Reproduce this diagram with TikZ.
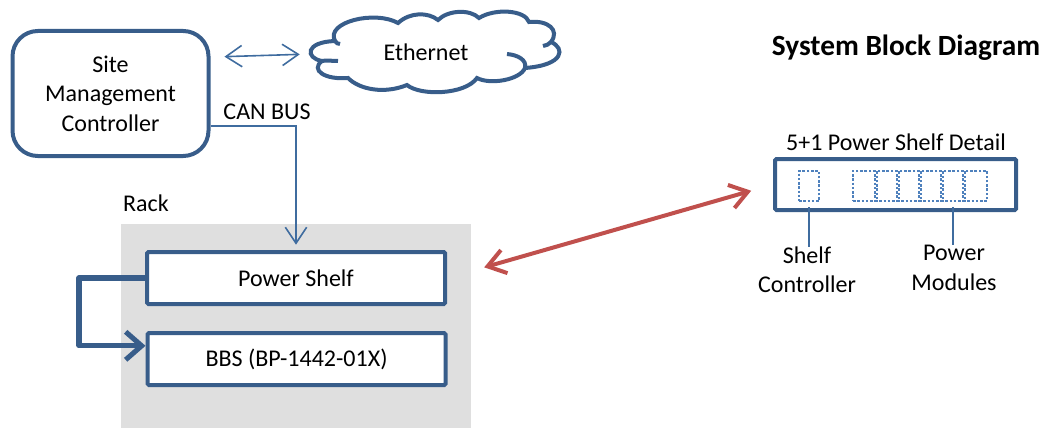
\documentclass[tikz,border=0pt]{standalone}
\usepackage{fontspec}
\setmainfont{Carlito}
\usetikzlibrary{arrows.meta}
\definecolor{boxblue}{HTML}{385D8A}
\definecolor{linkblue}{HTML}{3F6C9F}
\definecolor{dotblue}{HTML}{4F81BD}
\definecolor{linkred}{HTML}{C0504D}
\definecolor{rackgrey}{HTML}{DFDFDF}
\tikzset{
  label text/.style={inner sep=0pt,align=center,font=\fontsize{18}{22}\selectfont},
  solid box/.style={rectangle,draw=boxblue,line width=3pt,fill=white,minimum height=52*.75pt,minimum width=298*.75pt,inner sep=0pt,label text,rounded corners=1pt},
  dot box/.style={rectangle,draw=dotblue,line width=1.9pt,dash pattern=on 1.9pt off 1.3pt,minimum width=24*.75pt,minimum height=30*.75pt,inner sep=0pt},
  thin link/.style={draw=linkblue,line width=1.2pt,-{Straight Barb[length=12pt,width=16pt,line width=1.2pt]}},
  thick link/.style={draw=boxblue,line width=3.8pt,-{Straight Barb[length=12pt,width=21pt,line width=3.8pt]}},
  red link/.style={draw=linkred,line width=3pt,{Straight Barb[length=13pt,width=18pt,line width=3pt]}-{Straight Barb[length=13pt,width=18pt,line width=3pt]}},
}
\begin{document}
\begin{tikzpicture}[x=.75pt,y=-.75pt]
      \useasboundingbox (0,0) rectangle (1044,428);
      \node[rectangle,fill=rackgrey,minimum width=350*.75pt,minimum height=204*.75pt,inner sep=0pt] (rack) at (296,326) {};
      \node[label text] (racklabel) at (146,203) {Rack};
      \node[solid box,minimum width=196*.75pt,minimum height=125*.75pt,rounded corners=19pt,line width=3pt] (site) at (110.5,93.5) {Site\\Management\\Controller};
      \draw[boxblue,line width=3pt,fill=white]
        (335,41) .. controls (325,22) and (375,10) .. (398,23)
        .. controls (410,12) and (428,12) .. (438,20)
        .. controls (448,10) and (470,9) .. (479,18)
        .. controls (495,8) and (525,10) .. (529,22)
        .. controls (548,20) and (560,30) .. (551,42)
        .. controls (565,48) and (565,65) .. (525,68)
        .. controls (520,80) and (490,85) .. (477,78)
        .. controls (465,95) and (420,96) .. (407,85)
        .. controls (385,94) and (360,90) .. (348,78)
        .. controls (325,80) and (310,70) .. (322,61)
        .. controls (305,58) and (305,42) .. (335,41) -- cycle;
      \draw[boxblue,line width=3pt] (322,61) .. controls (326,60) and (332,61) .. (338,61);
      \draw[boxblue,line width=3pt] (335,41) .. controls (336,43) and (338,44) .. (340,44);
      \draw[boxblue,line width=3pt] (551,42) .. controls (549,44) and (546,46) .. (543,46);
      \draw[boxblue,line width=3pt] (525,68) .. controls (527,60) and (518,55) .. (507,54);
      \node[label text,minimum width=232*.75pt] (ethernet) at (426,52) {Ethernet};
      \draw[thin link,{Straight Barb[length=12pt,width=16pt,line width=1.2pt]}-{Straight Barb[length=12pt,width=16pt,line width=1.2pt]},shorten <=10.5pt,shorten >=7.5pt] (site.20) to (ethernet.181);
      \node[label text] (canbus) at (267,112) {CAN BUS};
      \node[solid box] (shelf) at (296,278) {Power Shelf};
      \node[solid box] (bbs) at (296.5,359) {BBS (BP-1442-01X)};
      \draw[thin link,shorten >=4pt] (site.342) -| (shelf.north);
      \coordinate (bend) at (79,278);
      \draw[thick link,line join=round] (shelf.west) -- (bend) |- (bbs.175);
      \node[font=\fontsize{22}{26}\selectfont\bfseries,inner sep=0pt] (title) at (906,48) {System Block Diagram};
      \node[label text] (detailtitle) at (896,142) {5+1 Power Shelf Detail};
      \node[solid box,minimum width=241*.75pt,minimum height=51*.75pt] (detail) at (895.5,184.5) {};
      \draw[red link,shorten <=29pt,shorten >=17pt] (shelf.east) to (detail.west);
      \node[dot box,minimum width=20*.75pt] (ctrl) at (809,186) {};
      \foreach \i in {0,...,5} {
        \node[dot box] (module\i) at (865+22*\i,186) {};
      }
      \node[label text] (ctrllabel) at (807,270) {Shelf\\Controller};
      \node[label text] (modulelabel) at (954,268) {Power\\Modules};
      \draw[linkblue,line width=1.5pt,shorten <=3.75pt] (ctrl.south) -- (ctrllabel.north -| ctrl.south);
      \draw[linkblue,line width=1.5pt,shorten <=3.75pt] (module4.south) -- (modulelabel.north -| module4.south);
    \end{tikzpicture}
\end{document}
